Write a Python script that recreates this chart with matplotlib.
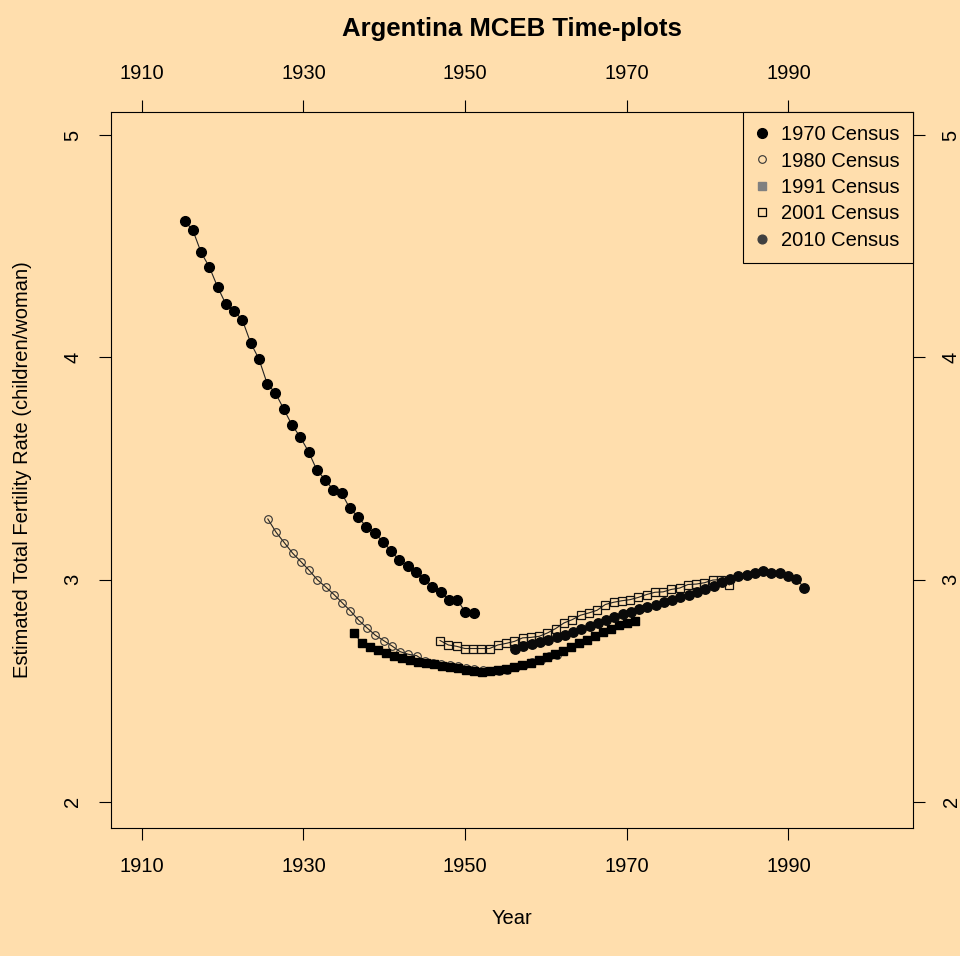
import numpy as np
import matplotlib
matplotlib.use("Agg")
import matplotlib.pyplot as plt
from matplotlib.lines import Line2D

plt.rcParams["font.family"] = ["Liberation Sans", "DejaVu Sans"]

bg = "#FFDEAD"

# MCEB estimates, 36 points per census: first year and spacing of the time axis
start_1970, start_1980, start_1991, start_2001, start_2010 = 1915.3, 1925.6, 1936.2, 1946.9, 1956.2
step_1970, step_1980, step_1991, step_2001, step_2010 = 1.022, 1.022, 0.995, 1.022, 1.022

tfr_1970 = [4.615, 4.573, 4.473, 4.407, 4.317, 4.240, 4.210, 4.168, 4.066, 3.993,
            3.882, 3.840, 3.768, 3.696, 3.642, 3.576, 3.494, 3.450, 3.404, 3.390,
            3.321, 3.283, 3.237, 3.211, 3.171, 3.129, 3.087, 3.062, 3.033, 3.004,
            2.969, 2.943, 2.909, 2.909, 2.853, 2.849]
tfr_1980 = [3.273, 3.213, 3.166, 3.119, 3.081, 3.042, 2.999, 2.967, 2.933, 2.896,
            2.859, 2.817, 2.783, 2.750, 2.726, 2.702, 2.676, 2.664, 2.658, 2.634,
            2.626, 2.620, 2.614, 2.609, 2.602, 2.596, 2.592, 2.588, 2.588, 2.595,
            2.606, 2.616, 2.627, 2.640, 2.655, 2.662]
tfr_1991 = [2.762, 2.716, 2.699, 2.683, 2.668, 2.655, 2.645, 2.638, 2.630, 2.623,
            2.618, 2.612, 2.607, 2.600, 2.594, 2.590, 2.586, 2.588, 2.592, 2.597,
            2.605, 2.614, 2.625, 2.638, 2.650, 2.664, 2.680, 2.697, 2.714, 2.730,
            2.748, 2.765, 2.780, 2.795, 2.805, 2.812]
tfr_2001 = [2.726, 2.706, 2.700, 2.690, 2.690, 2.690, 2.690, 2.706, 2.713, 2.722,
            2.738, 2.740, 2.745, 2.760, 2.780, 2.805, 2.820, 2.840, 2.850, 2.862,
            2.888, 2.898, 2.905, 2.910, 2.920, 2.933, 2.943, 2.945, 2.956, 2.962,
            2.978, 2.980, 2.986, 2.998, 3.000, 2.976]
tfr_2010 = [2.690, 2.700, 2.712, 2.720, 2.730, 2.740, 2.752, 2.765, 2.778, 2.792,
            2.806, 2.820, 2.834, 2.846, 2.856, 2.866, 2.878, 2.888, 2.898, 2.908,
            2.920, 2.932, 2.945, 2.956, 2.970, 2.988, 3.003, 3.015, 3.022, 3.030,
            3.038, 3.030, 3.028, 3.018, 3.004, 2.963]

labels = ["1970 Census", "1980 Census", "1991 Census", "2001 Census", "2010 Census"]
xticks = [1910, 1930, 1950, 1970, 1990]
yticks = [2, 3, 4, 5]


def years(start, step, vals):
    return start + step * np.arange(len(vals))


fig = plt.figure(figsize=(9.6, 9.56), dpi=100, facecolor=bg)
ax = fig.add_axes([111 / 960, 1 - 828 / 956, 802 / 960, 716 / 956])
ax.set_facecolor(bg)

lkw = {"color": "#222222", "lw": 0.8}
ax.plot(years(start_1970, step_1970, tfr_1970), tfr_1970, marker="o", ms=7,
        mfc="black", mec="black", **lkw)
ax.plot(years(start_1980, step_1980, tfr_1980), tfr_1980, marker="o", ms=5.5,
        mfc="none", mec="#333333", mew=0.8, **lkw)
ax.plot(years(start_1991, step_1991, tfr_1991), tfr_1991, marker="s", ms=6.2,
        mfc="black", mec="black", **lkw)
ax.plot(years(start_2001, step_2001, tfr_2001), tfr_2001, marker="s", ms=6.3,
        mfc="none", mec="#111111", mew=0.9, **lkw)
ax.plot(years(start_2010, step_2010, tfr_2010), tfr_2010, marker="o", ms=6.8,
        mfc="#0a0a0a", mec="#0a0a0a", **lkw)

ax.set_xlim(1906.2, 2005.4)
ax.set_ylim(1.882, 5.105)
ax.set_xticks(xticks)
ax.set_yticks(yticks)
ax.tick_params(direction="out", length=8.6, width=0.8, pad=12, labelsize=14.5,
               top=True, right=True, labeltop=True, labelright=True)
ax.tick_params(axis="y", labelrotation=90)
for lab in ax.get_yticklabels():
    lab.set_va("center")
for sp in ax.spines.values():
    sp.set_linewidth(0.8)

handles = [
    Line2D([], [], ls="none", marker="o", ms=7, mfc="black", mec="black"),
    Line2D([], [], ls="none", marker="o", ms=5.5, mfc="none", mec="#333333", mew=0.8),
    Line2D([], [], ls="none", marker="s", ms=6, mfc="#808080", mec="#808080"),
    Line2D([], [], ls="none", marker="s", ms=6.3, mfc="none", mec="black", mew=0.9),
    Line2D([], [], ls="none", marker="o", ms=6.3, mfc="#404040", mec="#404040"),
]
leg = ax.legend(handles, labels, loc="upper right", borderaxespad=0, fontsize=14.5,
                fancybox=False, framealpha=1, facecolor=bg, edgecolor="black",
                handlelength=0.6, handletextpad=0.65, labelspacing=0.37,
                borderpad=0.65)
leg.get_frame().set_linewidth(0.8)

fig.text(512 / 960, 1 - 29 / 956, "Argentina MCEB Time-plots", ha="center",
         va="center", fontsize=18.5, fontweight="bold")
fig.text(512 / 960, 1 - 918 / 956, "Year", ha="center", va="center", fontsize=14.5)
fig.text(23 / 960, 1 - 470 / 956, "Estimated Total Fertility Rate (children/woman)",
         ha="center", va="center", rotation=90, fontsize=14.5)

fig.savefig("out.png", dpi=100, facecolor=bg)
